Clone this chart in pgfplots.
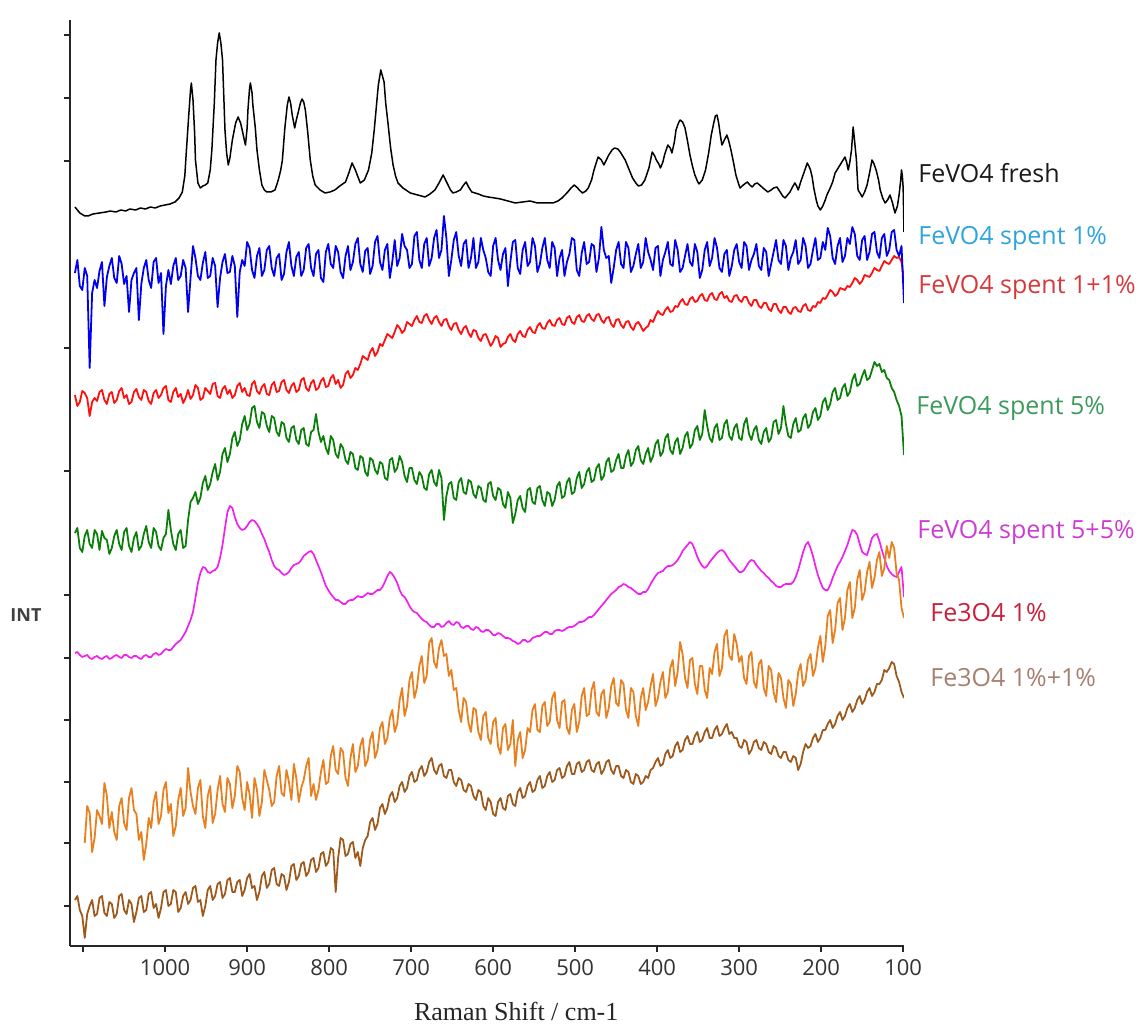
\documentclass[border=0pt]{standalone}
\usepackage{fontspec}
\setmainfont{Open Sans}
\newfontfamily\axisserif{Liberation Serif}
\usepackage{pgfplots}
\usepackage{pgfplotstable}
\pgfplotsset{compat=1.18}

\definecolor{cBlue}{HTML}{0000EE}
\definecolor{cRed}{HTML}{FF1010}
\definecolor{cGreen}{HTML}{0A800A}
\definecolor{cMag}{HTML}{F020F0}
\definecolor{cOrange}{HTML}{E8801F}
\definecolor{cBrown}{HTML}{9E5A1C}
\definecolor{tFresh}{HTML}{1A1A1A}
\definecolor{tBlue}{HTML}{2FA4DC}
\definecolor{tRed}{HTML}{D6393A}
\definecolor{tGreen}{HTML}{3C9A5C}
\definecolor{tMag}{HTML}{CC3CD2}
\definecolor{tFeA}{HTML}{C8203C}
\definecolor{tFeB}{HTML}{A57F70}

% Raman spectra of the spent samples (intensity in arbitrary, offset units)
\pgfplotstableread{
x    blue red green magenta orange brown
1110 755 633 495 375 nan 128
1107 768 622 500 376 nan 132
1104 742 626 480 373 nan 118
1101 738 637 476 371 nan 112
1098 760 635 492 372 185 90
1095 752 630 498 373 222 114
1092 660 612 484 370 215 122
1089 735 626 480 369 176 128
1086 748 630 498 371 190 112
1083 740 627 494 372 218 114
1080 757 636 478 370 212 130
1077 766 638 497 369 204 132
1074 722 628 490 371 245 115
1071 751 624 488 372 232 112
1068 762 634 474 369 200 126
1065 770 636 480 370 216 124
1062 750 625 492 372 196 110
1059 745 628 498 373 188 114
1056 772 637 484 371 222 132
1053 764 640 478 370 230 134
1050 744 630 496 373 205 118
1047 752 633 500 373 198 114
1044 716 624 482 371 230 128
1041 748 626 476 370 240 124
1038 755 636 490 372 218 106
1035 760 639 496 372 214 116
1032 708 631 478 370 188 130
1029 744 628 482 369 196 132
1026 760 638 494 372 168 116
1023 768 636 502 373 184 118
1020 748 627 486 371 210 134
1017 740 624 480 371 200 136
1014 766 635 500 374 226 120
1011 770 638 496 375 236 124
1008 745 630 482 373 204 110
1005 755 633 478 374 212 120
1002 694 640 490 377 238 136
999  742 642 494 379 246 138
996  758 628 518 378 215 122
993  744 626 498 378 224 124
990  762 636 484 381 192 138
987  770 640 478 384 202 136
984  748 631 494 386 228 116
981  752 634 498 388 240 120
978  768 625 480 392 212 132
975  760 630 482 396 220 136
972  716 638 508 402 260 124
969  750 629 526 408 236 128
966  782 633 530 416 222 140
963  770 643 536 430 214 142
960  752 640 524 445 240 126
957  748 628 530 455 248 128
954  765 630 545 461 212 112
951  776 640 552 460 200 122
948  750 637 538 456 232 138
945  752 634 544 455 242 142
942  770 644 556 457 205 128
939  762 645 564 458 214 132
936  721 632 548 461 238 144
933  750 630 556 470 252 146
930  766 639 574 483 224 130
927  774 642 580 500 216 134
924  755 634 566 516 250 148
921  756 638 574 522 244 150
918  772 630 590 520 220 136
915  762 633 596 511 232 136
912  711 642 582 504 262 146
909  756 645 588 500 256 148
906  768 636 604 498 230 132
903  762 640 612 499 218 138
900  786 633 598 502 246 150
897  780 632 604 506 234 154
894  758 644 620 508 210 140
891  750 647 622 507 250 142
888  772 637 606 504 238 128
885  780 634 600 500 212 136
882  752 641 616 494 226 152
879  758 644 614 489 258 156
876  778 634 602 482 248 140
873  782 633 596 476 238 144
870  760 643 612 468 222 158
867  752 646 610 462 226 160
864  770 636 596 459 252 144
861  774 637 592 458 262 142
858  748 646 606 455 235 154
855  754 648 604 453 232 152
852  776 638 590 454 258 138
849  786 635 586 456 246 146
846  762 642 600 460 228 162
843  752 645 602 463 264 164
840  771 636 588 464 250 148
837  776 638 584 465 226 152
834  752 648 598 468 240 164
831  758 650 600 472 248 166
828  780 640 584 474 262 152
825  784 637 582 476 270 156
822  760 645 596 477 232 168
819  752 648 598 474 244 170
816  774 638 614 468 228 156
813  778 640 596 462 238 160
810  750 647 586 456 256 174
807  746 650 592 449 268 176
804  776 641 580 442 244 162
801  784 642 574 438 246 166
798  764 650 592 434 272 180
795  760 653 588 431 282 178
792  782 644 574 428 258 136
789  776 648 570 428 254 170
786  756 640 584 426 280 190
783  750 643 580 424 276 188
780  772 654 568 424 250 172
777  782 657 564 427 242 174
774  758 650 576 428 270 184
771  766 653 574 428 284 186
768  784 660 560 430 256 170
765  790 658 558 432 262 176
762  764 664 572 431 282 162
759  756 672 570 431 290 180
756  777 670 556 433 262 188
753  780 668 552 435 268 192
750  754 676 570 434 288 206
747  762 680 568 434 296 210
744  786 672 558 436 270 198
741  792 676 554 438 278 204
738  766 684 566 438 300 220
735  758 682 564 441 306 224
732  778 688 550 446 284 214
729  784 694 548 452 290 220
726  750 692 568 456 310 232
723  766 690 570 454 318 236
720  788 696 556 450 296 226
717  762 703 560 445 304 230
714  770 700 572 438 328 242
711  794 695 566 433 340 246
708  782 698 552 431 312 236
705  778 706 546 427 322 240
702  760 704 560 422 348 252
699  764 702 560 418 356 256
696  792 708 548 416 330 246
693  796 712 544 415 340 248
690  768 706 556 412 362 258
687  760 705 552 409 372 262
684  784 712 540 407 345 252
681  790 714 538 406 352 256
678  762 708 554 403 385 266
675  770 704 558 401 390 270
672  790 710 546 401 366 258
669  798 712 542 404 360 254
666  770 706 558 404 380 262
663  778 702 550 401 388 264
660  812 708 508 402 372 252
657  790 709 532 405 374 250
654  752 702 544 407 352 258
651  768 698 546 404 358 258
648  788 704 530 403 338 246
645  796 705 528 406 340 242
642  772 698 546 405 318 250
639  762 694 550 401 306 248
636  784 700 536 400 330 238
633  788 702 534 402 326 236
630  760 695 548 402 305 244
627  770 691 546 399 296 242
624  790 698 534 398 320 232
621  760 697 530 401 318 228
618  766 690 542 400 296 238
615  790 687 540 397 288 236
612  778 693 528 396 312 222
609  770 694 526 398 316 218
606  756 688 544 398 290 230
603  752 682 546 396 284 226
600  782 686 532 393 306 214
597  790 692 528 393 310 212
594  768 690 540 395 282 226
591  758 681 538 394 274 230
588  774 684 524 392 300 220
585  780 685 520 390 304 218
582  742 691 536 390 278 232
579  766 694 530 389 284 234
576  786 688 505 387 308 224
573  788 686 514 386 262 222
570  760 694 528 384 288 236
567  754 697 532 385 296 240
564  778 692 520 388 270 230
561  786 691 516 388 278 232
558  762 698 538 386 300 242
555  766 701 540 387 296 246
552  790 696 526 390 318 236
549  782 695 524 391 324 238
546  756 702 540 392 298 248
543  764 705 542 392 296 252
540  780 700 528 394 322 240
537  790 699 522 396 326 242
534  768 705 536 396 302 252
531  760 708 534 394 306 256
528  786 703 522 394 330 246
525  780 702 528 397 336 248
522  752 708 542 398 308 258
519  770 710 546 398 300 260
516  778 704 530 397 326 250
513  752 703 532 398 328 252
510  766 710 546 400 300 262
507  774 712 550 401 294 266
504  790 706 534 401 318 254
501  788 704 536 402 324 254
498  758 711 550 404 296 264
495  752 713 556 406 306 266
492  775 707 540 406 332 256
489  786 706 544 407 340 258
486  764 712 556 409 312 266
483  766 714 560 411 314 268
480  784 709 546 411 338 258
477  782 707 548 413 346 256
474  756 713 560 416 316 264
471  770 714 564 419 312 266
468  801 708 548 422 334 254
465  778 705 552 425 338 258
462  770 710 566 428 310 266
459  772 711 570 431 320 268
456  745 704 556 434 342 258
453  760 701 558 436 350 254
450  778 708 568 438 325 262
447  786 709 574 441 322 262
444  764 703 560 442 348 252
441  760 700 560 444 344 250
438  786 706 572 443 318 258
435  780 707 578 441 310 256
432  756 701 562 440 340 246
429  762 698 566 438 336 244
426  774 704 578 436 312 254
423  784 706 582 434 302 252
420  760 702 568 434 330 244
417  766 697 564 436 340 246
414  790 700 574 436 318 252
411  776 702 580 439 326 250
408  768 708 566 444 342 258
405  758 706 572 448 354 260
402  780 712 584 452 322 266
399  782 717 588 455 330 270
396  752 714 572 456 346 262
393  768 713 576 457 356 264
390  776 718 590 460 330 274
387  786 721 594 462 336 278
384  764 716 578 462 360 270
381  762 717 574 463 368 272
378  788 722 586 465 342 282
375  778 721 590 468 356 286
372  756 726 574 472 386 276
369  760 729 580 477 374 278
366  772 724 592 480 350 288
363  784 723 596 483 340 292
360  766 729 580 486 368 284
357  762 731 584 484 370 284
354  784 726 598 478 344 292
351  776 727 602 471 334 296
348  750 732 588 466 362 286
345  758 734 594 462 362 288
342  778 728 618 460 338 296
339  786 727 602 462 330 300
336  762 733 590 466 360 290
333  770 735 586 469 354 290
330  790 729 600 472 376 298
327  780 728 604 475 384 302
324  760 734 588 477 352 292
321  756 736 590 478 360 294
318  774 730 604 476 392 300
315  778 732 608 472 398 304
312  752 727 592 468 372 294
309  762 726 588 465 368 296
306  778 732 600 462 394 290
303  784 733 604 459 384 290
300  766 728 590 456 366 282
297  760 726 588 456 372 280
294  786 731 604 458 350 288
291  782 731 610 462 344 286
288  758 725 594 466 372 274
285  768 722 588 468 376 278
282  774 728 598 467 346 286
279  784 728 602 463 340 288
276  762 722 588 460 364 280
273  758 720 584 457 368 278
270  780 725 596 455 340 286
267  776 725 600 452 332 284
264  752 719 586 450 362 276
261  764 717 590 447 358 274
258  776 724 606 445 336 282
255  788 724 608 442 326 280
252  768 718 594 441 355 272
249  764 715 600 441 350 270
246  788 721 622 443 330 276
243  782 721 604 444 320 276
240  758 716 592 444 348 268
237  770 714 590 444 344 266
234  776 720 604 446 322 272
231  788 721 610 451 334 270
228  764 717 596 458 356 258
225  768 716 598 467 364 264
222  790 722 610 476 342 276
219  782 724 614 483 348 284
216  760 718 600 486 368 280
213  764 717 604 480 374 282
210  778 722 616 472 352 290
207  790 721 620 462 360 294
204  768 726 608 453 380 286
201  770 725 612 446 392 290
198  786 730 626 440 366 298
195  778 729 630 438 382 298
192  800 733 618 438 412 304
189  792 738 624 443 418 308
186  770 736 636 450 385 300
183  764 732 640 456 398 304
180  782 734 628 462 425 312
177  790 740 630 466 430 316
174  766 739 640 471 398 308
171  772 738 644 477 410 312
168  790 742 632 483 438 320
165  784 741 636 491 446 324
162  801 745 648 498 410 316
159  794 750 654 497 420 320
156  772 748 642 493 448 328
153  768 744 644 484 458 332
150  788 747 652 476 428 324
147  792 753 658 474 436 328
144  768 752 648 473 456 336
141  776 751 650 481 466 340
138  794 755 658 490 440 332
135  796 760 666 493 450 336
132  776 758 662 494 468 344
129  770 757 664 487 476 344
126  790 762 656 478 452 348
123  794 767 658 470 460 358
120  772 765 650 462 482 356
117  778 764 648 457 470 360
114  796 768 640 454 486 366
111  798 772 636 452 480 364
108  778 770 628 451 455 352
105  772 771 622 456 448 346
102  782 766 612 461 420 336
99   725 748 573 431 410 330
}\spectra

\begin{document}
\begin{tikzpicture}
\path[use as bounding box] (0,0) rectangle (573.5pt,514pt);
\begin{axis}[
  at={(35pt,41pt)}, anchor=south west,
  scale only axis, width=417pt, height=463pt,
  x dir=reverse, xmin=99, xmax=1116, ymin=82, ymax=1008,
  axis x line*=bottom, axis y line*=left,
  axis line style={-, line width=0.8pt, black!85},
  xtick={100,200,...,1100},
  xticklabels={100,200,300,400,500,600,700,800,900,1000,{}},
  ytick={122,185,246,308,370,433,557,680,867,930,993},
  yticklabels={},
  tick align=outside, major tick length=3pt,
  tick style={black!85, line width=0.7pt},
  xticklabel style={font=\fontsize{11}{13}\selectfont, text=black!80},
  xlabel={Raman Shift / cm-1},
  xlabel style={font=\axisserif\fontsize{13}{15}\selectfont, text=black!85,
    at={(axis description cs:0.535,-0.0702)}, anchor=center},
  ylabel={INT},
  ylabel style={font=\bfseries\fontsize{9}{11}\selectfont, text=black!75, rotate=-90,
    at={(axis description cs:-0.0528,0.357)}, anchor=center},
  every axis plot/.append style={line join=round},
]
% FeVO4 fresh
\addplot[black, line width=0.75pt] coordinates {
(1110,821) (1104,815) (1098,812) (1094,812) (1088,814) (1080,815) (1072,816) (1067,817)
(1060,816) (1054,818) (1048,817) (1043,819) (1036,818) (1030,820) (1024,819) (1018,821)
(1012,820) (1006,822) (1000,823) (994,824) (988,826) (983,830) (979,836) (976,852)
(974,878) (971,915) (969,938) (968,945) (966,928) (964,895) (963,868) (960,845)
(957,840) (954,842) (951,843) (948,845) (945,858) (943,878) (940,925) (938,968)
(936,985) (934,995) (932,985) (930,968) (927,898) (925,875) (923,863) (921,870)
(918,888) (914,905) (911,911) (908,905) (906,898) (904,890) (902,883) (900,900)
(899,918) (897,940) (896,945) (894,935) (893,923) (890,900) (888,878) (885,858)
(882,843) (879,838) (876,836) (871,836) (866,838) (862,848) (859,858) (857,868)
(854,900) (851,923) (849,931) (847,925) (845,913) (842,900) (840,908) (837,918)
(835,925) (833,929) (831,926) (829,918) (826,895) (823,868) (820,852) (817,843)
(811,838) (805,835) (799,836) (793,838) (787,842) (780,846) (776,855) (772,865)
(768,858) (762,845) (757,848) (752,858) (748,875) (745,898) (742,925) (740,943)
(737,958) (735,952) (733,946) (731,925) (728,903) (725,880) (722,863) (719,852)
(716,845) (710,840) (701,835) (692,833) (683,831) (677,834) (671,838) (666,845)
(661,853) (658,848) (655,843) (652,838) (649,835) (645,836) (640,838) (636,843)
(633,846) (630,841) (626,836) (618,834) (612,832) (606,831) (598,830) (591,829)
(582,827) (573,825) (564,826) (555,827) (546,825) (537,825) (527,825) (521,827)
(516,830) (509,836) (505,840) (501,843) (497,840) (495,838) (491,835) (487,837)
(484,840) (480,848) (477,858) (474,866) (472,871) (468,868) (465,863) (462,868)
(459,873) (455,878) (452,880) (448,879) (445,876) (442,872) (439,868) (434,858)
(430,850) (426,845) (423,842) (419,843) (415,848) (410,860) (406,876) (403,872)
(401,868) (398,864) (396,860) (393,866) (391,873) (387,883) (384,880) (382,875)
(379,886) (377,898) (374,905) (372,908) (369,906) (366,900) (363,887) (360,873)
(357,862) (354,853) (351,847) (349,844) (345,848) (341,858) (337,876) (334,893)
(331,905) (329,912) (327,913) (325,905) (323,893) (321,883) (318,888) (315,893)
(313,888) (310,878) (307,866) (304,853) (301,845) (299,840) (295,843) (290,846)
(287,843) (284,841) (281,844) (278,845) (275,843) (271,840) (268,838) (265,836)
(261,838) (258,840) (254,841) (250,836) (247,832) (244,830) (241,833) (238,836)
(235,841) (232,845) (230,842) (228,838) (225,846) (222,853) (219,860) (217,865)
(215,862) (213,858) (211,851) (209,840) (206,828) (204,822) (201,818) (198,822)
(195,828) (193,833) (189,840) (186,846) (183,855) (180,859) (177,863) (174,867)
(171,871) (169,866) (167,858) (165,866) (163,878) (161,901) (159,885) (157,868)
(156,852) (155,838) (152,834) (150,831) (147,836) (144,843) (141,855) (138,868)
(136,865) (133,858) (130,848) (128,838) (125,830) (122,825) (119,828) (116,833)
(113,825) (110,815) (107,822) (105,833) (103,848) (102,858) (101,852) (100,840)
(99,796)
};
\addplot[cRed, line width=0.9pt] table[x=x, y=red] {\spectra};
\addplot[cBlue, line width=0.9pt] table[x=x, y=blue] {\spectra};
\addplot[cGreen, line width=0.9pt] table[x=x, y=green] {\spectra};
\addplot[cMag, line width=0.85pt] table[x=x, y=magenta] {\spectra};
\addplot[cOrange, line width=0.9pt] table[x=x, y=orange] {\spectra};
\addplot[cBrown, line width=0.9pt] table[x=x, y=brown] {\spectra};
\end{axis}
\begin{scope}[every node/.style={anchor=west, inner sep=0pt, font=\fontsize{12.5}{14}\selectfont}]
\node[text=tFresh] at (459pt,427.5pt) {FeVO4 fresh};
\node[text=tBlue]  at (459pt,395pt)   {FeVO4 spent 1\%};
\node[text=tRed]   at (459pt,370.5pt) {FeVO4 spent 1+1\%};
\node[text=tGreen] at (458pt,310pt)   {FeVO4 spent 5\%};
\node[text=tMag]   at (458.5pt,248pt) {FeVO4 spent 5+5\%};
\node[text=tFeA]   at (465pt,207.5pt) {Fe3O4 1\%};
\node[text=tFeB]   at (465pt,175pt)   {Fe3O4 1\%+1\%};
\end{scope}
\end{tikzpicture}
\end{document}
